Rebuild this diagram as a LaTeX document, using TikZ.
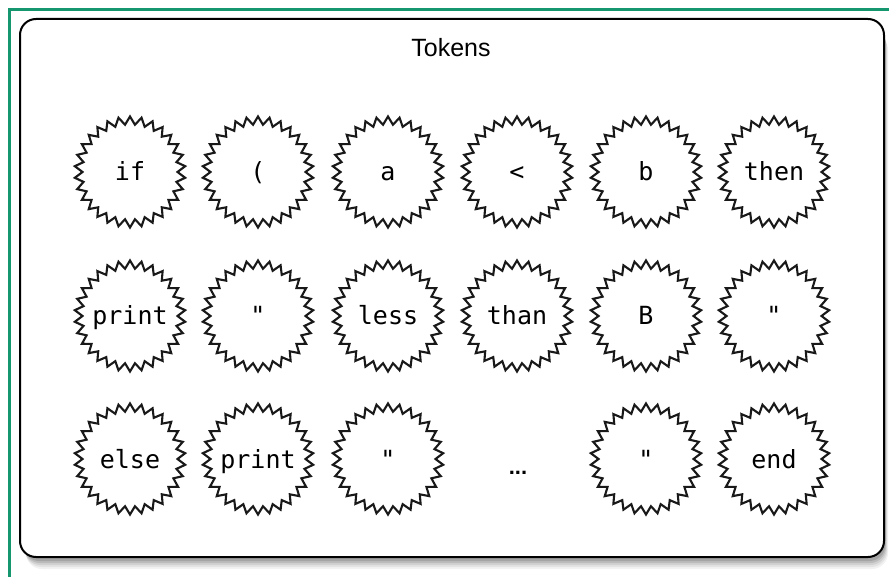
\documentclass[tikz,border=0pt]{standalone}
\usepackage{fontspec}
\setmainfont{Liberation Sans}
\newfontfamily\tokfont{DejaVu Sans Mono}
\definecolor{framegreen}{RGB}{22,150,110}
\begin{document}
\begin{tikzpicture}[x=1pt,y=-1pt,
  token/.style={circle, minimum size=94pt, inner sep=0pt,
    text height=20pt, text depth=2pt,
    font=\tokfont\fontsize{25}{27}\selectfont},
  zigzag/.style={draw=black!90, line width=2.1pt, line join=miter, fill=white},
  panel/.style={draw=black, line width=2pt, rounded corners=16pt, fill=white},
  title/.style={font=\fontsize{25}{28}\selectfont}]
\useasboundingbox (0,0) rectangle (889,577);
\fill[white] (0,0) rectangle (889,577);
% soft shadow under the panel
\foreach \o/\a in {12/0.05,10/0.06,8/0.08,6/0.10,4/0.12}
  \fill[black, opacity=\a, rounded corners=16pt]
    (22+\o/3,22+\o) rectangle (884+\o/3,557+\o);
% panel
\draw[panel] (20,19) rectangle (884,557);
% green frame edges
\draw[framegreen, line width=2.4pt] (9.5,577) -- (9.5,9.5) -- (889,9.5);
\node[title, anchor=base] (title) at (451,57) {Tokens};
% token positions
\coordinate (p11) at (130,172); \coordinate (p12) at (258,172);
\coordinate (p13) at (388,172); \coordinate (p14) at (517,172);
\coordinate (p15) at (646,172); \coordinate (p16) at (774,172);
\coordinate (p21) at (130,316); \coordinate (p22) at (258,316);
\coordinate (p23) at (388,316); \coordinate (p24) at (517,316);
\coordinate (p25) at (646,316); \coordinate (p26) at (774,316);
\coordinate (p31) at (130,459); \coordinate (p32) at (258,459);
\coordinate (p33) at (388,459);
\coordinate (p35) at (646,459); \coordinate (p36) at (774,459);
% zigzag rims round each token (60 corners, alternating radius)
\foreach \p in {p11,p12,p13,p14,p15,p16,p21,p22,p23,p24,p25,p26,p31,p32,p33,p35,p36}
  \draw[zigzag, shift={(\p)}]
    plot[samples=60, domain=0:59, variable=\k]
      ({(51.5+4*cos(180*\k))*cos(6*\k+90)},
       {(51.5+4*cos(180*\k))*sin(6*\k+90)}) -- cycle;
% row 1
\node[token] (t11) at (p11) {if};
\node[token] (t12) at (p12) {(};
\node[token] (t13) at (p13) {a};
\node[token] (t14) at (p14) {<};
\node[token] (t15) at (p15) {b};
\node[token] (t16) at (p16) {then};
% row 2
\node[token] (t21) at (p21) {print};
\node[token] (t22) at (p22) {"};
\node[token] (t23) at (p23) {less};
\node[token] (t24) at (p24) {than};
\node[token] (t25) at (p25) {B};
\node[token] (t26) at (p26) {"};
% row 3
\node[token] (t31) at (p31) {else};
\node[token] (t32) at (p32) {print};
\node[token] (t33) at (p33) {"};
\node[font=\bfseries\fontsize{22}{24}\selectfont, anchor=base] (dots) at (518,474) {...};
\node[token] (t35) at (p35) {"};
\node[token] (t36) at (p36) {end};
\end{tikzpicture}
\end{document}
